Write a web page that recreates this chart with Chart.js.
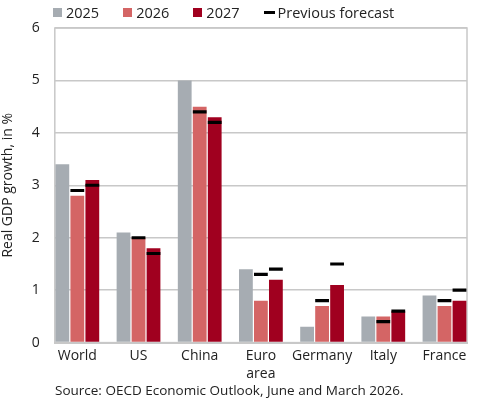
<!DOCTYPE html>
<html>
<head>
<meta charset="utf-8">
<script src="https://cdn.jsdelivr.net/npm/chart.js@4"></script>
<style>
	html, body { margin: 0; padding: 0; background: #fff; }
	#wrap { position: relative; width: 490px; height: 401px; font-family: "Open Sans", sans-serif; color: #222; }
	#legend { position: absolute; left: 53px; top: 3px; display: flex; align-items: center; font-size: 14.5px; }
	#legend .item { display: flex; align-items: center; margin-right: 24px; }
	#legend .box { width: 9px; height: 9px; margin-right: 4px; }
	#legend .dash { width: 11px; height: 3px; background: #000; margin-right: 3px; }
	#source { position: absolute; left: 55px; top: 381px; font-size: 13.5px; }
</style>
</head>
<body>
<div id="wrap">
	<canvas id="gdpChart" width="490" height="401"></canvas>
	<div id="legend"></div>
	<div id="source">Source: OECD Economic Outlook, June and March 2026.</div>
</div>
<script>
// data
const countries = ["World", "US", "China", ["Euro", "area"], "Germany", "Italy", "France"];
const growth2025 = [3.4, 2.1, 5.0, 1.4, 0.3, 0.5, 0.9];
const growth2026 = [2.8, 2.0, 4.5, 0.8, 0.7, 0.5, 0.7];
const growth2027 = [3.1, 1.8, 4.3, 1.2, 1.1, 0.6, 0.8];
const prev2026 = [2.9, 2.0, 4.4, 1.3, 0.8, 0.4, 0.8];
const prev2027 = [3.0, 1.7, 4.2, 1.4, 1.5, 0.6, 1.0];
const yTicks = [0, 1, 2, 3, 4, 5, 6];

const colors = { y2025: "#a6acb2", y2026: "#d46565", y2027: "#a0001f" };
const markHalf = 0.03;

// legend in html
const legendItems = [
	{ text: "2025", color: colors.y2025 },
	{ text: "2026", color: colors.y2026 },
	{ text: "2027", color: colors.y2027 },
	{ text: "Previous forecast", dash: true }
];
const legendEl = document.getElementById("legend");
legendItems.forEach(item => {
	const el = document.createElement("div");
	el.className = "item";
	el.innerHTML = item.dash
		? `<span class="dash"></span><span>${item.text}</span>`
		: `<span class="box" style="background:${item.color}"></span><span>${item.text}</span>`;
	legendEl.appendChild(el);
});

// plot frame round the chart area
const frame = {
	id: "frame",
	beforeDatasetsDraw(chart) {
		const { ctx, chartArea: a } = chart;
		ctx.save();
		ctx.strokeStyle = "#c8c8c8";
		ctx.lineWidth = 1.5;
		ctx.strokeRect(a.left, a.top, a.right - a.left, a.bottom - a.top);
		ctx.restore();
	}
};

const marker = vals => vals.map(v => [v - markHalf, v + markHalf]);

const ctx = document.getElementById("gdpChart").getContext("2d");
new Chart(ctx, {
	type: "bar",
	data: {
		labels: countries.map((c, i) => i),
		datasets: [
			{ label: "2025", data: growth2025, backgroundColor: colors.y2025, stack: "a" },
			{ label: "prev 2026", data: marker(prev2026), backgroundColor: "#000", stack: "b" },
			{ label: "prev 2027", data: marker(prev2027), backgroundColor: "#000", stack: "c" },
			{ label: "2026", data: growth2026, backgroundColor: colors.y2026, stack: "b" },
			{ label: "2027", data: growth2027, backgroundColor: colors.y2027, stack: "c" }
		]
	},
	options: {
		responsive: false,
		animation: false,
		categoryPercentage: 0.735,
		barPercentage: 0.92,
		layout: { padding: { top: 28, right: 23, bottom: 14, left: 0 } },
		plugins: {
			legend: { display: false },
			tooltip: { enabled: false }
		},
		scales: {
			x: {
				type: "linear",
				offset: false,
				min: -0.368,
				max: 6.368,
				grid: { display: false, drawTicks: false, tickLength: 0 },
				border: { display: true, color: "#c8c8c8", width: 2 },
				afterBuildTicks: scale => {
					scale.ticks = countries.map((c, i) => ({ value: i }));
				},
				ticks: {
					padding: 4,
					maxRotation: 0,
					minRotation: 0,
					autoSkip: false,
					color: "#222",
					font: { family: "Open Sans", size: 14, lineHeight: 1.3 },
					callback: (value, index) => countries[index]
				}
			},
			y: {
				stacked: false,
				min: 0,
				max: 6,
				afterBuildTicks: scale => {
					scale.ticks = yTicks.map(v => ({ value: v }));
				},
				grid: { color: "#c8c8c8", lineWidth: 1.5, drawTicks: false },
				border: { display: false },
				ticks: {
					padding: 15,
					color: "#222",
					font: { family: "Open Sans", size: 14 }
				},
				title: {
					display: true,
					text: "Real GDP growth, in %",
					color: "#222",
					padding: { top: 0, bottom: 0 },
					font: { family: "Open Sans", size: 14 }
				}
			}
		}
	},
	plugins: [frame]
});
</script>
</body>
</html>
